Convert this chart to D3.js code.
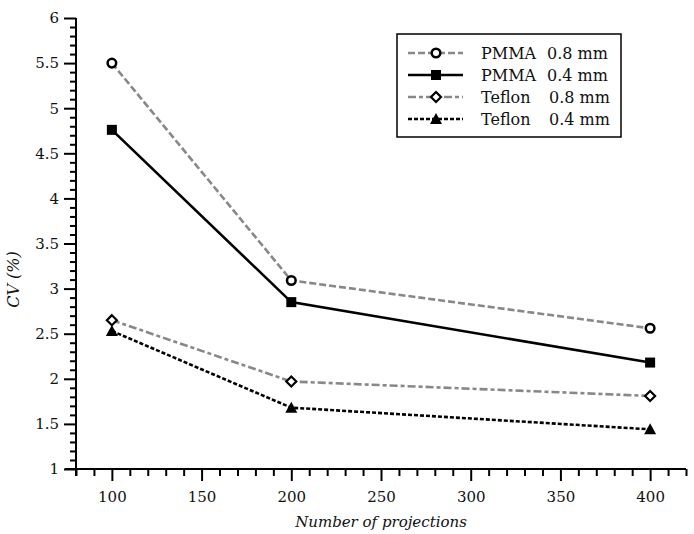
<!DOCTYPE html>
<html>
<head>
<meta charset="utf-8">
<script src="https://cdn.jsdelivr.net/npm/d3@7"></script>
<style>
  body { margin: 0; background: #fff; }
  svg { display: block; }
  text { font-family: "DejaVu Serif", "Liberation Serif", serif; fill: #111; }
</style>
</head>
<body>
<script>
const projections = [100, 200, 400];
const pmma08 = [5.50, 3.09, 2.56];
const pmma04 = [4.76, 2.85, 2.18];
const teflon08 = [2.65, 1.97, 1.81];
const teflon04 = [2.53, 1.68, 1.44];
const legendLabelsA = ["PMMA", "PMMA", "Teflon", "Teflon"];
const legendLabelsB = ["0.8 mm", "0.4 mm", "0.8 mm", "0.4 mm"];
const yTicks = [1, 1.5, 2, 2.5, 3, 3.5, 4, 4.5, 5, 5.5, 6];
const xTicks = [100, 150, 200, 250, 300, 350, 400];

const W = 694, H = 534;
const svg = d3.select("body").append("svg").attr("width", W).attr("height", H);

const x = d3.scaleLinear().domain([80, 420]).range([76, 686]);
const y = d3.scaleLinear().domain([1, 6]).range([469, 18]);

const styles = [
  { color: "#888", dash: "7,3", marker: "circle" },
  { color: "#000", dash: null, marker: "square" },
  { color: "#888", dash: "8,3,4,3", marker: "diamond" },
  { color: "#000", dash: "4,2", marker: "triangle" }
];
const allSeries = [pmma08, pmma04, teflon08, teflon04];

// Axes
const minorX = d3.range(80, 421, 10);
const minorY = d3.range(10, 61, 1).map(d => d / 10);

const gx = svg.append("g").attr("transform", `translate(0,${y(1)})`);
gx.append("g").call(d3.axisBottom(x).tickValues(minorX.filter(v => !xTicks.includes(v))).tickSize(7).tickFormat(""))
  .call(g => g.select(".domain").remove());
gx.append("g").call(d3.axisBottom(x).tickValues(xTicks).tickSize(12).tickSizeOuter(0).tickPadding(10))
  .call(g => g.select(".domain").attr("d", `M65,0H${x(420)}`));
gx.selectAll("line").attr("stroke", "#000").attr("stroke-width", 2);
gx.selectAll(".domain").attr("stroke", "#000").attr("stroke-width", 2);
gx.selectAll("text").style("font-size", "15px").attr("fill", "#111");

const gy = svg.append("g").attr("transform", `translate(${x(80)},0)`);
gy.append("g").call(d3.axisLeft(y).tickValues(minorY.filter(v => !yTicks.some(t => Math.abs(t - v) < 1e-9))).tickSize(6).tickFormat(""))
  .call(g => g.select(".domain").remove());
gy.append("g").call(d3.axisLeft(y).tickValues(yTicks).tickSize(12).tickSizeOuter(0).tickPadding(5).tickFormat(d => d3.format("")(d)))
  .call(g => g.select(".domain").attr("d", `M0,${y(1) + 7}V${y(6)}`));
gy.selectAll("line").attr("stroke", "#000").attr("stroke-width", 2);
gy.selectAll(".domain").attr("stroke", "#000").attr("stroke-width", 2);
gy.selectAll("text").style("font-size", "15px").attr("fill", "#111");

// Axis labels
svg.append("text").attr("x", (x(80) + x(420)) / 2).attr("y", 527)
  .attr("text-anchor", "middle").style("font-size", "15px").style("font-style", "italic")
  .text("Number of projections");
svg.append("text").attr("transform", `translate(19,${y(3.1)}) rotate(-90)`)
  .attr("text-anchor", "middle").style("font-size", "16px").style("font-style", "italic")
  .text("CV (%)");

function drawMarker(g, type, cx, cy) {
  if (type === "circle") {
    g.append("circle").attr("cx", cx).attr("cy", cy).attr("r", 4.3)
      .attr("fill", "#fff").attr("stroke", "#000").attr("stroke-width", 2.5);
  } else if (type === "square") {
    g.append("rect").attr("x", cx - 5).attr("y", cy - 5).attr("width", 10).attr("height", 10).attr("fill", "#000");
  } else if (type === "diamond") {
    g.append("path").attr("d", `M${cx},${cy - 5}L${cx + 5},${cy}L${cx},${cy + 5}L${cx - 5},${cy}Z`)
      .attr("fill", "#fff").attr("stroke", "#000").attr("stroke-width", 2.2);
  } else if (type === "triangle") {
    g.append("path").attr("d", `M${cx},${cy - 6}L${cx + 6},${cy + 5}L${cx - 6},${cy + 5}Z`).attr("fill", "#000");
  }
}

const line = d3.line().x((d, i) => x(projections[i])).y(d => y(d));
allSeries.forEach((vals, si) => {
  const s = styles[si];
  const g = svg.append("g");
  g.append("path").attr("d", line(vals)).attr("fill", "none")
    .attr("stroke", s.color).attr("stroke-width", 2.6)
    .attr("stroke-dasharray", s.dash);
  vals.forEach((v, i) => drawMarker(g, s.marker, x(projections[i]), y(v)));
});

// Legend
const lg = svg.append("g");
lg.append("rect").attr("x", 397).attr("y", 34).attr("width", 224).attr("height", 103)
  .attr("fill", "#fff").attr("stroke", "#000").attr("stroke-width", 1.5);
allSeries.forEach((vals, si) => {
  const s = styles[si];
  const ly = 53 + si * 22;
  lg.append("line").attr("x1", 408).attr("x2", 463).attr("y1", ly).attr("y2", ly)
    .attr("stroke", s.color).attr("stroke-width", 2.6).attr("stroke-dasharray", s.dash);
  drawMarker(lg, s.marker, 436, ly);
  lg.append("text").attr("x", 481).attr("y", ly + 5.5).style("font-size", "16px").text(legendLabelsA[si]);
  lg.append("text").attr("x", si < 2 ? 547 : 549).attr("y", ly + 5.5).style("font-size", "16px").text(legendLabelsB[si]);
});
</script>
</body>
</html>
